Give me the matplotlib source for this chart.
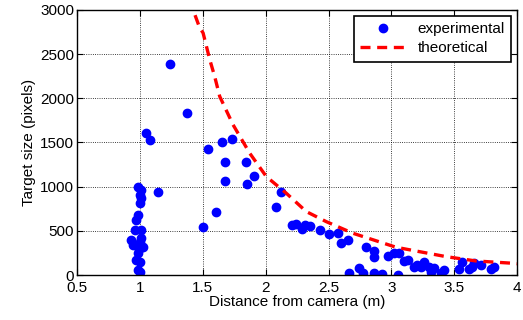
"""Target size against distance from camera: measured points and the theoretical curve."""

import matplotlib

matplotlib.use("Agg")

import matplotlib.pyplot as plt

plt.rcParams["font.family"] = ["Liberation Sans", "DejaVu Sans"]
plt.rcParams["font.size"] = 11

exp_dist = [
    0.987, 1.013, 1.000, 1.013, 1.000, 0.987, 0.973, 0.960, 1.013, 0.934,
    1.000, 1.026, 0.947, 0.987, 0.973, 1.000, 0.987, 1.000, 1.013, 0.990,
    1.048, 1.082, 1.145, 1.238, 1.373, 1.503, 1.545, 1.609, 1.656, 1.736,
    1.680, 1.841, 1.675, 1.849, 1.907, 2.085, 2.124, 2.209, 2.238, 2.288,
    2.312, 2.352, 2.431, 2.502, 2.579, 2.600, 2.651, 2.659, 2.746, 2.772,
    2.794, 2.860, 2.860, 2.860, 2.923, 2.971, 3.018, 3.050, 3.063, 3.097,
    3.129, 3.183, 3.201, 3.236, 3.257, 3.302, 3.315, 3.341, 3.394, 3.421,
    3.540, 3.561, 3.619, 3.640, 3.653, 3.711, 3.791, 3.817,
]
exp_size = [
    1001, 964, 907, 869, 813, 680, 624, 510, 510, 397,
    378, 321, 340, 246, 170, 151, 57, 38, 420, 290,
    1610, 1531, 944, 2389, 1829, 544, 1429, 714, 1504, 1534,
    1278, 1281, 1062, 1035, 1119, 767, 937, 563, 582, 525,
    563, 552, 507, 465, 480, 363, 393, 19, 76, 26,
    314, 276, 208, 19, 10, 215, 246, 5, 246, 162,
    170, 94, 113, 94, 151, 94, 37, 76, 19, 57,
    65, 151, 65, 94, 133, 113, 65, 94,
]

# theoretical curve
theo_dist = [1.40, 1.424, 1.476, 1.503, 1.556, 1.595, 1.635, 1.741, 1.873, 2.005,
             2.164, 2.323, 2.482, 2.693, 3.037, 3.434, 3.672, 3.963, 4.00]
theo_size = [3200, 3000, 2797, 2740, 2438, 2248, 2022, 1701, 1380, 1115,
             926, 718, 604, 473, 314, 208, 159, 133, 128]

fig = plt.figure(figsize=(5.23, 3.2), dpi=100)
ax = fig.add_axes([0.147, 0.1406, 0.842, 0.8284])

ax.plot(exp_dist, exp_size, "o", color="blue", markersize=6, label="experimental")
ax.plot(theo_dist, theo_size, "--", color="red", linewidth=2.4, dashes=(3, 2),
        label="theoretical")

ax.set_xlim(0.5, 4)
ax.set_ylim(0, 3000)
ax.set_xticks([0.5, 1, 1.5, 2, 2.5, 3, 3.5, 4])
ax.set_xticklabels(["0.5", "1", "1.5", "2", "2.5", "3", "3.5", "4"])
ax.set_yticks([0, 500, 1000, 1500, 2000, 2500, 3000])
ax.grid(True, linestyle=":", color="black", linewidth=0.6)
ax.tick_params(direction="in", top=True, right=True, length=4)
ax.tick_params(axis="x", pad=4)
ax.tick_params(axis="y", pad=2)
for spine in ax.spines.values():
    spine.set_linewidth(1.0)
ax.set_xlabel("Distance from camera (m)", labelpad=0)
ax.set_ylabel("Target size (pixels)", labelpad=3)

leg = ax.legend(loc="upper right", fancybox=False, edgecolor="black", framealpha=1,
                borderaxespad=0.4, handlelength=3.0, borderpad=0.4, labelspacing=0.35)
leg.get_frame().set_linewidth(1.2)

fig.savefig("out.png", dpi=100)
